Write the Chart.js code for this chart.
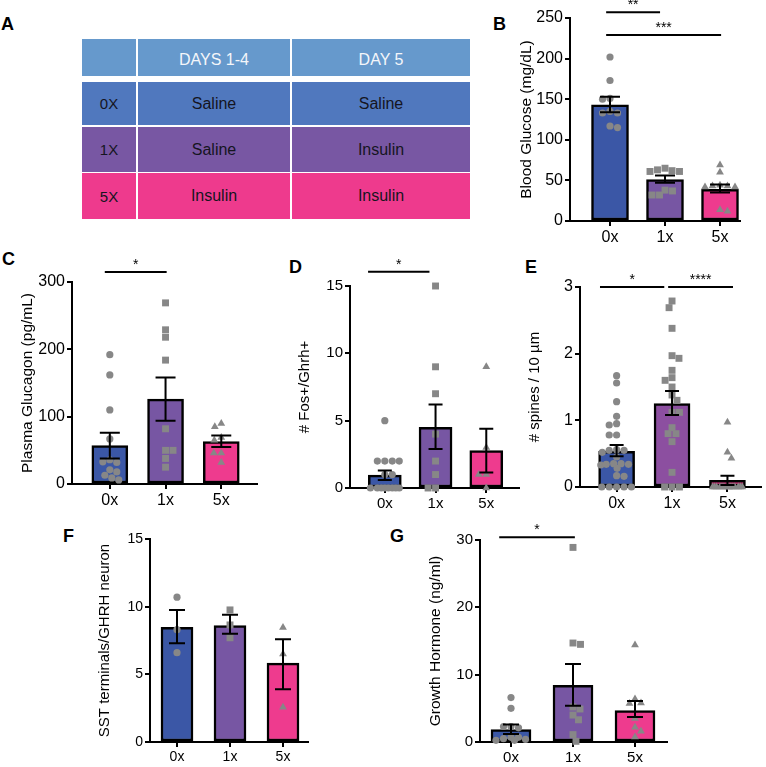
<!DOCTYPE html>
<html><head><meta charset="utf-8">
<script src="https://cdn.jsdelivr.net/npm/chart.js@4.4.1/dist/chart.umd.min.js"></script>
<style>
html,body{margin:0;padding:0;background:#fff}
body{width:766px;height:767px;position:relative;overflow:hidden;font-family:"Liberation Sans",Arial,Helvetica,sans-serif}
.lbl{position:absolute;font-weight:bold;font-size:18px;line-height:18px;color:#000}
.cell{position:absolute;display:flex;align-items:center;justify-content:center;font-size:16px}
canvas{position:absolute}
</style></head><body>
<script>
// ---------- DATA ----------
const groups = ['0x', '1x', '5x'];

// Panel A (protocol table)
const tableHead = ['', 'DAYS 1-4', 'DAY 5'];
const tableRows = [
  ['0X', 'Saline', 'Saline'],
  ['1X', 'Saline', 'Insulin'],
  ['5X', 'Insulin', 'Insulin']
];

// Panel B: Blood glucose (mg/dL)
const glucoseMean = [143, 51, 39];
const glucoseLo = [134, 47, 35];
const glucoseHi = [153, 56, 45];
const glucose0x = [202, 173, 151, 150, 135, 133, 133, 117, 115];
const glucose1x = [65, 62, 61, 61, 63, 37, 38, 32, 32];
const glucose5x = [69, 60, 44, 43, 43, 42, 42, 12, 14];
const glucoseSig = [['**', -0.07, 0.91, 257], ['***', -0.07, 2.02, 229]];

// Panel C: Plasma glucagon (pg/mL)
const glucagonMean = [57, 126, 63];
const glucagonLo = [38, 94, 55];
const glucagonHi = [76, 158, 72];
const glucagon0x = [192, 162, 110, 67, 36, 33, 32, 21, 18, 13, 6, 9];
const glucagon1x = [269, 229, 218, 184, 82, 50, 50, 38, 25];
const glucagon5x = [90, 85, 69, 65, 46, 46, 32];
const glucagonSig = [['*', -0.09, 1.02, 315]];

// Panel D: # Fos+/Ghrh+
const fosMean = [0.96, 4.5, 2.77];
const fosLo = [0.6, 2.9, 1.15];
const fosHi = [1.3, 6.2, 4.4];
const fos0x = [5, 2, 2, 2, 2, 1, 1, 0, 0, 0, 0, 0, 0, 0, 0];
const fos1x = [15, 9, 7, 4, 2, 1, 0, 0];
const fos5x = [9, 3, 1, 1, 0];
const fosSig = [['*', -0.33, 0.88, 16.05]];

// Panel E: # spines / 10 µm
const spinesMean = [0.535, 1.25, 0.1];
const spinesLo = [0.46, 1.08, 0.03];
const spinesHi = [0.63, 1.44, 0.17];
const spines0x = [1.67, 1.56, 1.28, 1.06, 0.93, 0.95, 0.78, 0.78, 0.55, 0.56, 0.52, 0.55, 0.45, 0.35, 0.33, 0.34, 0.35, 0.34, 0.28, 0.17, 0.16, 0, 0, 0, 0, 0];
const spines1x = [2.79, 2.69, 2.38, 1.97, 1.93, 1.75, 1.64, 1.6, 1.5, 1.38, 1.3, 1.12, 1.12, 0.89, 0.8, 0.8, 0.68, 0.22, 0, 0, 0];
const spines5x = [0.97, 0.52, 0.43, 0, 0, 0, 0, 0, 0, 0, 0, 0, 0, 0, 0, 0, 0];
const spinesSig = [['*', -0.3, 0.86, 3.0], ['****', 0.93, 2.1, 3.0]];

// Panel F: SST terminals / GHRH neuron
const sstMean = [8.48, 8.6, 5.83];
const sstLo = [7.3, 8.0, 3.9];
const sstHi = [9.75, 9.4, 7.6];
const sst0x = [10.7, 8.3, 6.6];
const sst1x = [9.76, 8.65, 7.7];
const sst5x = [8.46, 6.5, 2.56];
const sstSig = [];

// Panel G: Growth hormone (ng/ml)
const ghMean = [1.83, 8.4, 4.65];
const ghLo = [1.2, 5.4, 3.7];
const ghHi = [2.6, 11.6, 6.1];
const gh0x = [6.6, 5.0, 2.3, 2.3, 2.1, 0.7, 0.7, 0.5, 0.4, 0.25, 0.25];
const gh1x = [28.9, 14.5, 14.7, 5.2, 4.9, 4.0, 3.3, 1.1, 0.1];
const gh5x = [14.4, 6.4, 5.8, 5.7, 3.5, 2.2, 1.6, 0.75];
const ghSig = [['*', -0.19, 1.03, 30.4]];

// ---------- STYLE ----------
const FONT = '"Liberation Sans", Arial, Helvetica, sans-serif';
const barColors = ['#3B57A6', '#7756A3', '#EE3B8E'];
const barColorsE = ['#3B57A6', '#8C4FA0', '#EE3B8E'];
const tableColors = ['#6699CC', '#5078BE', '#7857A3', '#EE3A8D'];
const tableCols = [[82, 136], [138, 290], [292, 470]];
const tableRowsY = [[39, 76], [82, 125], [127, 172], [173, 219]];

// ---------- PANEL LETTERS ----------
const letters = [['A', 1, 15], ['B', 493, 15], ['C', 2, 250], ['D', 289, 258], ['E', 525, 258], ['F', 63, 527], ['G', 390, 527]];
letters.forEach(([t, x, y]) => {
  const d = document.createElement('div');
  d.className = 'lbl'; d.textContent = t;
  d.style.left = x + 'px'; d.style.top = y + 'px';
  document.body.appendChild(d);
});

// ---------- TABLE (A) ----------
[tableHead].concat(tableRows).forEach((row, r) => {
  row.forEach((txt, c) => {
    const d = document.createElement('div');
    d.className = 'cell';
    d.textContent = txt;
    d.style.left = tableCols[c][0] + 'px';
    d.style.width = (tableCols[c][1] - tableCols[c][0]) + 'px';
    d.style.top = tableRowsY[r][0] + 'px';
    d.style.height = (tableRowsY[r][1] - tableRowsY[r][0]) + 'px';
    d.style.background = tableColors[r];
    d.style.color = r === 0 ? '#F4F6FA' : '#15151F';
    if (r === 0) { d.style.paddingTop = '4px'; d.style.boxSizing = 'border-box'; }
    d.style.fontSize = (c === 0 ? 15 : 16) + 'px';
    document.body.appendChild(d);
  });
});

// ---------- CHART HELPERS ----------
function swarm(vals, pxY, d, maxHalf) {
  const idx = vals.map((v, i) => i).sort((a, b) => vals[b] - vals[a]);
  const placed = [];
  const offs = new Array(vals.length).fill(0);
  const cands = [0];
  for (let o = 0.5; o <= maxHalf; o += 0.5) cands.push(o, -o);
  idx.forEach((i, n) => {
    const y = vals[i] * pxY;
    let best = 0, bestD = -1;
    for (const c0 of cands) {
      const c = (n % 2) ? -c0 : c0;
      let md = Infinity;
      for (const q of placed) {
        const dd = Math.hypot(q[0] - c, q[1] - y);
        if (dd < md) md = dd;
      }
      if (md >= d) { best = c; break; }
      if (md > bestD) { bestD = md; best = c; }
    }
    offs[i] = best;
    placed.push([best, y]);
  });
  return offs;
}

function makePanel(p) {
  const cv = document.createElement('canvas');
  cv.width = p.box[2]; cv.height = p.box[3];
  cv.style.left = p.box[0] + 'px'; cv.style.top = p.box[1] + 'px';
  document.body.appendChild(cv);
  const [L, T, R, B] = p.area;
  const sp = (p.centers[2] - p.centers[0]) / 2;
  const xmin = -(p.centers[0] - L) / sp;
  const xmax = 2 + (R - p.centers[2]) / sp;
  const pxY = (B - T) / p.ymax;
  const styles = ['circle', 'rect', 'triangle'];
  const radii = [3.6, 4.9, 4.5];
  const datasets = [{
    type: 'bar',
    data: p.mean.map((m, i) => ({ x: i, y: m })),
    backgroundColor: p.colors,
    borderColor: '#000',
    borderWidth: 2.5,
    borderSkipped: false,
    barThickness: p.barW,
    order: 10
  }];
  p.points.forEach((vals, g) => {
    const offs = swarm(vals, pxY, 7.2, p.barW / 2 - 2);
    datasets.push({
      type: 'scatter',
      data: vals.map((v, k) => ({ x: g + offs[k] / sp, y: v })),
      pointStyle: styles[g],
      pointRadius: radii[g],
      pointHoverRadius: radii[g],
      pointBackgroundColor: '#878787',
      pointBorderWidth: 0,
      clip: false,
      order: 1
    });
  });
  const titleLH = p.titleSize * 1.2;
  const extras = {
    id: 'extras',
    afterDatasetsDraw(chart) {
      const { ctx, scales: { x, y } } = chart;
      ctx.save();
      ctx.strokeStyle = '#000';
      ctx.lineWidth = 2;
      p.lo.forEach((l, i) => {
        const px = x.getPixelForValue(i);
        const pl = y.getPixelForValue(l), ph = y.getPixelForValue(p.hi[i]);
        ctx.beginPath();
        ctx.moveTo(px, pl); ctx.lineTo(px, ph);
        ctx.moveTo(px - p.cap, pl); ctx.lineTo(px + p.cap, pl);
        ctx.moveTo(px - p.cap, ph); ctx.lineTo(px + p.cap, ph);
        ctx.stroke();
      });
      ctx.fillStyle = '#000';
      ctx.font = '14px ' + FONT;
      ctx.textAlign = 'center';
      ctx.textBaseline = 'alphabetic';
      p.sig.forEach(([lab, a, b, v]) => {
        const x1 = x.getPixelForValue(a), x2 = x.getPixelForValue(b), py = y.getPixelForValue(v);
        ctx.beginPath(); ctx.moveTo(x1, py); ctx.lineTo(x2, py); ctx.stroke();
        ctx.fillText(lab, (x1 + x2) / 2, py - 3);
      });
      ctx.restore();
    }
  };
  new Chart(cv, {
    type: 'bar',
    data: { datasets },
    options: {
      responsive: false,
      animation: false,
      devicePixelRatio: 1,
      layout: { padding: { top: T - p.box[1], right: p.box[0] + p.box[2] - R, left: 0, bottom: 0 } },
      plugins: { legend: { display: false }, tooltip: { enabled: false } },
      scales: {
        x: {
          type: 'linear', min: xmin, max: xmax, offset: false,
          afterBuildTicks: s => { s.ticks = groups.map((g, i) => ({ value: i })); },
          afterFit: s => { s.height = p.box[1] + p.box[3] - B; },
          ticks: { callback: v => groups[v], color: '#000', font: { size: p.tickSize, family: FONT }, padding: 2, maxRotation: 0, autoSkip: false },
          grid: { display: true, offset: false, drawOnChartArea: false, drawTicks: true, tickLength: 5, color: '#000', lineWidth: 2 },
          border: { display: true, color: '#000', width: 2 }
        },
        y: {
          type: 'linear', min: 0, max: p.ymax,
          ticks: { stepSize: p.step, color: '#000', font: { size: p.tickSize, family: FONT }, padding: 2 },
          afterFit: s => { s.width = L - p.box[0]; },
          grid: { display: true, drawOnChartArea: false, drawTicks: true, tickLength: 5, color: '#000', lineWidth: 2 },
          border: { display: true, color: '#000', width: 2 },
          title: { display: true, text: p.title, color: '#000', font: { size: p.titleSize, family: FONT }, padding: { top: p.titleCx - p.box[0] - titleLH / 2, bottom: 0 } }
        }
      }
    },
    plugins: [extras]
  });
}

makePanel({ box: [490, 0, 276, 262], area: [570, 18, 740, 221], centers: [610, 665, 720], barW: 37, cap: 10,
  ymax: 250, step: 50, tickSize: 16, title: 'Blood Glucose (mg/dL)', titleSize: 15.5, titleCx: 527, colors: barColors,
  mean: glucoseMean, lo: glucoseLo, hi: glucoseHi, points: [glucose0x, glucose1x, glucose5x], sig: glucoseSig });

makePanel({ box: [0, 245, 262, 270], area: [72, 282, 258, 484], centers: [110, 166, 222], barW: 36, cap: 10,
  ymax: 300, step: 100, tickSize: 16, title: 'Plasma Glucagon (pg/mL)', titleSize: 15.5, titleCx: 28, colors: barColors,
  mean: glucagonMean, lo: glucagonLo, hi: glucagonHi, points: [glucagon0x, glucagon1x, glucagon5x], sig: glucagonSig });

makePanel({ box: [262, 245, 262, 270], area: [350, 286, 520, 488], centers: [385, 436, 487], barW: 33, cap: 7,
  ymax: 15, step: 5, tickSize: 15, title: '# Fos+/Ghrh+', titleSize: 15, titleCx: 305, colors: barColors,
  mean: fosMean, lo: fosLo, hi: fosHi, points: [fos0x, fos1x, fos5x], sig: fosSig });

makePanel({ box: [510, 245, 256, 270], area: [580, 287, 763, 487], centers: [617, 673, 729], barW: 36, cap: 7,
  ymax: 3, step: 1, tickSize: 16, title: '# spines / 10 µm', titleSize: 15, titleCx: 535, colors: barColorsE,
  mean: spinesMean, lo: spinesLo, hi: spinesHi, points: [spines0x, spines1x, spines5x], sig: spinesSig });

makePanel({ box: [60, 510, 260, 257], area: [150, 539, 308, 742], centers: [177, 230, 283], barW: 32, cap: 8,
  ymax: 15, step: 5, tickSize: 14, title: 'SST terminals/GHRH neuron', titleSize: 15, titleCx: 105, colors: barColors,
  mean: sstMean, lo: sstLo, hi: sstHi, points: [sst0x, sst1x, sst5x], sig: sstSig });

makePanel({ box: [390, 510, 290, 257], area: [480, 540, 667, 742], centers: [511, 573, 635], barW: 40, cap: 8,
  ymax: 30, step: 10, tickSize: 15, title: 'Growth Hormone (ng/ml)', titleSize: 15.5, titleCx: 436, colors: barColors,
  mean: ghMean, lo: ghLo, hi: ghHi, points: [gh0x, gh1x, gh5x], sig: ghSig });
</script>
</body></html>
